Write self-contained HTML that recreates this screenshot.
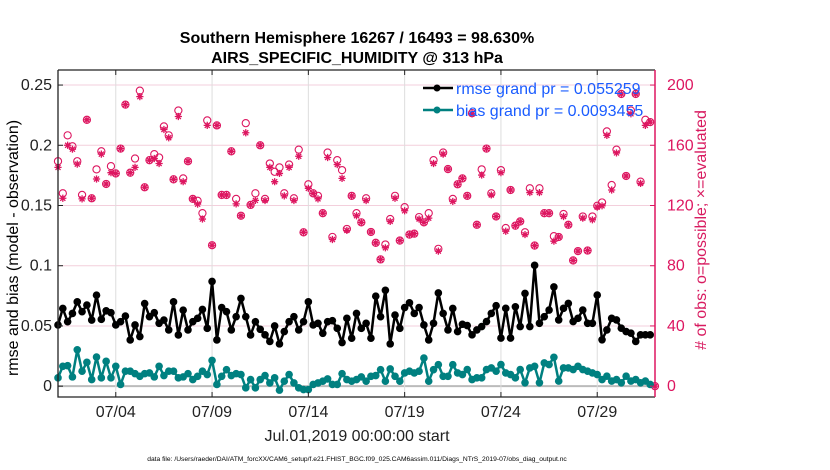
<!DOCTYPE html>
<html><head><meta charset="utf-8"><style>
body{margin:0;background:#fff;}
svg{display:block;font-family:"Liberation Sans",sans-serif;}
</style></head><body>
<svg id="chart" width="830" height="470" viewBox="0 0 830 470" xmlns="http://www.w3.org/2000/svg">
<rect width="830" height="470" fill="#fff"/>
<text x="357" y="43" text-anchor="middle" font-size="16" font-weight="bold">Southern Hemisphere 16267 / 16493 = 98.630%</text>
<text x="357" y="63" text-anchor="middle" font-size="16" font-weight="bold">AIRS_SPECIFIC_HUMIDITY @ 313 hPa</text>
<g id="grid"></g>
<g id="marks"></g>
<g id="axes"></g>
<g>
  <line x1="423" y1="88" x2="453" y2="88" stroke="#000" stroke-width="2.5"/>
  <circle cx="437" cy="88" r="3.5" fill="#000"/>
  <text x="456" y="94" font-size="16" fill="#1a5cff">rmse grand pr = 0.055259</text>
  <line x1="423" y1="110" x2="453" y2="110" stroke="#008080" stroke-width="2.5"/>
  <circle cx="437" cy="110" r="3.5" fill="#008080"/>
  <text x="456" y="116" font-size="16" fill="#1a5cff">bias grand pr = 0.0093455</text>
</g>
<text transform="translate(18,248) rotate(-90)" text-anchor="middle" font-size="16">rmse and bias (model - observation)</text>
<text transform="translate(706,230) rotate(-90)" text-anchor="middle" font-size="16" fill="#d81b60"># of obs: o=possible; ×=evaluated</text>
<text x="357" y="441" text-anchor="middle" font-size="16" fill="#222">Jul.01,2019 00:00:00 start</text>
<text x="357" y="461" text-anchor="middle" font-size="6.7">data file: /Users/raeder/DAI/ATM_forcXX/CAM6_setup/f.e21.FHIST_BGC.f09_025.CAM6assim.011/Diags_NTrS_2019-07/obs_diag_output.nc</text>
</svg>
<script>
const rmse=[0.0508,0.0645,0.0535,0.0604,0.070,0.0618,0.0673,0.0549,0.0755,0.0555,0.0626,0.061,0.0508,0.0535,0.0582,0.0384,0.0508,0.0412,0.0686,0.0577,0.061,0.0522,0.0549,0.0467,0.070,0.0425,0.0631,0.0467,0.0535,0.0563,0.0637,0.048,0.087,0.0384,0.0653,0.0618,0.0467,0.0577,0.0728,0.0577,0.0425,0.0535,
0.0472,0.0426,0.0371,0.05,0.0351,0.0453,0.0535,0.0577,0.0467,0.0535,0.070,0.0508,0.0522,0.0439,0.0535,0.0544,0.048,0.0362,0.0563,0.0398,0.0604,0.048,0.0522,0.0398,0.0747,0.0577,0.0796,0.0351,0.059,0.048,0.0653,0.0692,0.0604,0.0653,0.0508,0.0384,0.0522,0.0774,0.0604,0.0467,0.0645,0.0453,
0.0514,0.0503,0.0426,0.0467,0.0495,0.0536,0.0604,0.0668,0.0399,0.0646,0.0399,0.0659,0.0495,0.077,0.0495,0.1003,0.0522,0.0577,0.0632,0.0824,0.055,0.0646,0.0687,0.0536,0.0563,0.0632,0.0522,0.0522,0.0756,0.0385,0.0467,0.0563,0.055,0.0481,0.0453,0.044,0.0371,0.0426,0.0426,0.0426];
const bias=[0.0069,0.0165,0.0170,0.0077,0.0302,0.0124,0.0198,0.0055,0.0242,0.0069,0.0206,0.0069,0.0165,0.0014,0.0124,0.0124,0.0104,0.0082,0.0104,0.011,0.0077,0.0165,0.0088,0.0124,0.0124,0.0069,0.0077,0.0104,0.0055,0.0082,0.0124,0.0096,0.0214,0.0014,0.0082,0.0137,0.0088,0.0104,0.0096,-0.0014,0.0055,-0.0014,
0.0055,0.0088,0.0027,0.0069,-0.0033,0.0041,0.0096,0.0027,-0.0014,-0.0028,-0.0028,0.0014,0.0027,0.0041,0.006,0.0014,0.0014,0.0104,0.0055,0.0041,0.0055,0.0077,0.0041,0.0082,0.0088,0.0137,0.0041,0.0143,0.0082,0.0041,0.011,0.0124,0.011,0.0124,0.0233,0.0041,0.0137,0.0178,0.0082,0.0082,0.0178,0.011,
0.0096,0.0138,0.0055,0.0069,0.0069,0.0138,0.0151,0.0124,0.0179,0.011,0.0096,0.0069,0.0138,0.0028,0.0151,0.0165,0.0028,0.0193,0.0179,0.024,0.0042,0.0151,0.0151,0.0138,0.0165,0.0138,0.0124,0.011,0.0096,0.0055,0.0083,0.0042,0.0055,0.0028,0.0083,0.0042,0.0055,0.0028,0.0042,0.0014];
const possible=[149.4,128.1,166.6,159.3,149.4,127,176.9,124.8,144,156,134.3,146.1,141.3,157.8,187,141.8,151.2,196.3,132.1,150.1,154.1,151.9,172.5,166.6,137.4,183.1,138,149.4,124.4,123.1,114.9,176.5,93.6,173.2,127,127,156,124.4,113.2,174.7,120.4,128.1,
160,124.4,147.9,142.4,145.3,128.1,147.2,124.8,157.1,102.2,134.1,128.1,126.4,114.9,155.2,99.1,150.1,143.5,104.4,126.4,114.9,108.8,124.8,102.4,95.2,84.2,94.1,111,126.4,96.7,118.9,100.7,101.3,112.3,108.8,114.9,150.1,91.2,155.2,144.2,124.4,134.1,
138,126.4,181.3,107.2,144,157.8,128.1,112.7,143.5,105,130.3,106.6,109.4,102.2,131.4,93.4,131.4,114.9,114.9,99.6,99.1,114.3,107.2,83.5,89.7,112.7,90.1,112.7,119.8,122,169.2,133.6,157.1,194.1,139.6,183.1,194.1,135.8,176.9,175.4,0];
const evaluated=[145.3,124.8,160,157.4,147.5,124.4,176.9,124.8,137.6,154.1,134.3,141.8,141.3,157.8,187,141.8,145.3,192.3,132.1,150.1,151.2,147.9,170.5,165,137.4,179.1,135.8,149.4,124.4,120.9,111,173.2,93.6,173.2,127,127,156,121.1,113.2,168.3,120.4,123.4,
160,123.3,145.3,135.8,141.3,126.4,145.3,123.3,152.7,102.2,131.4,128.1,124.4,114.9,151.9,97.4,147.2,138,103.5,126.4,113.2,108.8,123.3,102.4,95.2,84.2,91.9,109.4,124.8,96.7,116.5,100.7,101.3,111,108.8,111.6,147.9,89.7,154.1,144.2,122.7,134.1,
138,126.4,180.9,107.2,140.2,157.8,127,112.7,141.8,102.9,130.3,106.6,109.4,100.7,128.6,93.4,128.6,114.9,114.9,96.3,99.1,112.7,107.2,83.5,89.7,111.6,90.1,110.5,118.9,119.8,166.6,130.3,154.9,194.1,139.6,180.9,194.1,134.7,173.2,175.4,0];
const leftTicks=[0,0.05,0.1,0.15,0.2,0.25];
const leftTickLabels=["0","0.05","0.1","0.15","0.2","0.25"];
const rightTicks=[0,40,80,120,160,200];
const xTickDays=[3,8,13,18,23,28];
const xTickLabels=["07/04","07/09","07/14","07/19","07/24","07/29"];

const L=58,R=655,T=70,B=397;
const X0=0,X1=31,YL0=-0.009,YL1=0.2625;
function xs(d){return L+(d-X0)/(X1-X0)*(R-L);}
function yl(v){return B-(v-YL0)/(YL1-YL0)*(B-T);}
function yr(c){return yl(c/800);}
function tOf(i){return i*0.25;}
const NS="http://www.w3.org/2000/svg";
function mk(tag,attrs,parent){const e=document.createElementNS(NS,tag);for(const k in attrs)e.setAttribute(k,attrs[k]);parent.appendChild(e);return e;}
const grid=document.getElementById('grid'),marks=document.getElementById('marks'),axes=document.getElementById('axes');
const RED="#dd1660";

leftTicks.forEach((v,k)=>{
  const y=yl(v);
  const g=mk('line',{x1:L,x2:R,y1:y,y2:y,stroke:v===0?'#bbb':'#f3cfdc','stroke-width':v===0?2:1},grid);
  
  
  const t=mk('text',{x:L-6,y:y+5,'text-anchor':'end','font-size':16,fill:'#222'},axes);
  t.textContent=leftTickLabels[k];
  
  
  mk('line',{x1:L,x2:L+5,y1:y,y2:y,stroke:'#222'},axes);
});
rightTicks.forEach(c=>{
  const y=yr(c);
  const t=mk('text',{x:R+12,y:y+5,'font-size':16,fill:RED},axes);
  t.textContent=String(c);
  
  
  mk('line',{x1:R-5,x2:R,y1:y,y2:y,stroke:RED},axes);
});
xTickDays.forEach((d,k)=>{
  const x=xs(d);
  const g=mk('line',{x1:x,x2:x,y1:T,y2:B,stroke:'#ddd','stroke-width':1},grid);
  
  
  mk('line',{x1:x,x2:x,y1:B-5,y2:B,stroke:'#222'},axes);
  mk('line',{x1:x,x2:x,y1:T,y2:T+5,stroke:'#222'},axes);
  const t=mk('text',{x:x,y:B+20,'text-anchor':'middle','font-size':16,fill:'#222'},axes);
  t.textContent=xTickLabels[k];
  
  
});
const ax=mk('path',{d:`M${L},${T}V${B}H${R}M${L},${T}H${R}`,stroke:'#222',fill:'none','stroke-width':1.3},axes);


const ra=mk('line',{x1:R,x2:R,y1:T,y2:B,stroke:RED,'stroke-width':1.5},axes);



possible.forEach((c,i)=>{
  const x=xs(tOf(i)),y=yr(c);
  const e=mk('circle',{cx:x,cy:y,r:3.6,fill:'none',stroke:RED,'stroke-width':1.1},marks);
  
  
});
evaluated.forEach((c,i)=>{
  const x=xs(tOf(i)),y=yr(c),s=3.6;
  const e=mk('path',{d:`M${x-s},${y}H${x+s}M${x},${y-s}V${y+s}M${x-s*0.7},${y-s*0.7}L${x+s*0.7},${y+s*0.7}M${x-s*0.7},${y+s*0.7}L${x+s*0.7},${y-s*0.7}`,stroke:RED,'stroke-width':1.3,fill:'none'},marks);
  
  
});
function series(arr,color,name){
  const d=arr.map((v,i)=>(i?'L':'M')+xs(tOf(i)).toFixed(1)+','+yl(v).toFixed(1)).join('');
  const p=mk('path',{d:d,stroke:color,'stroke-width':2.5,fill:'none','stroke-linejoin':'round'},marks);
  
  
  arr.forEach((v,i)=>{
    const c=mk('circle',{cx:xs(tOf(i)),cy:yl(v),r:3.8,fill:color},marks);
    
    
  });
}
series(bias,'#008080','bias');
series(rmse,'#000','rmse');
</script>
</body></html>
